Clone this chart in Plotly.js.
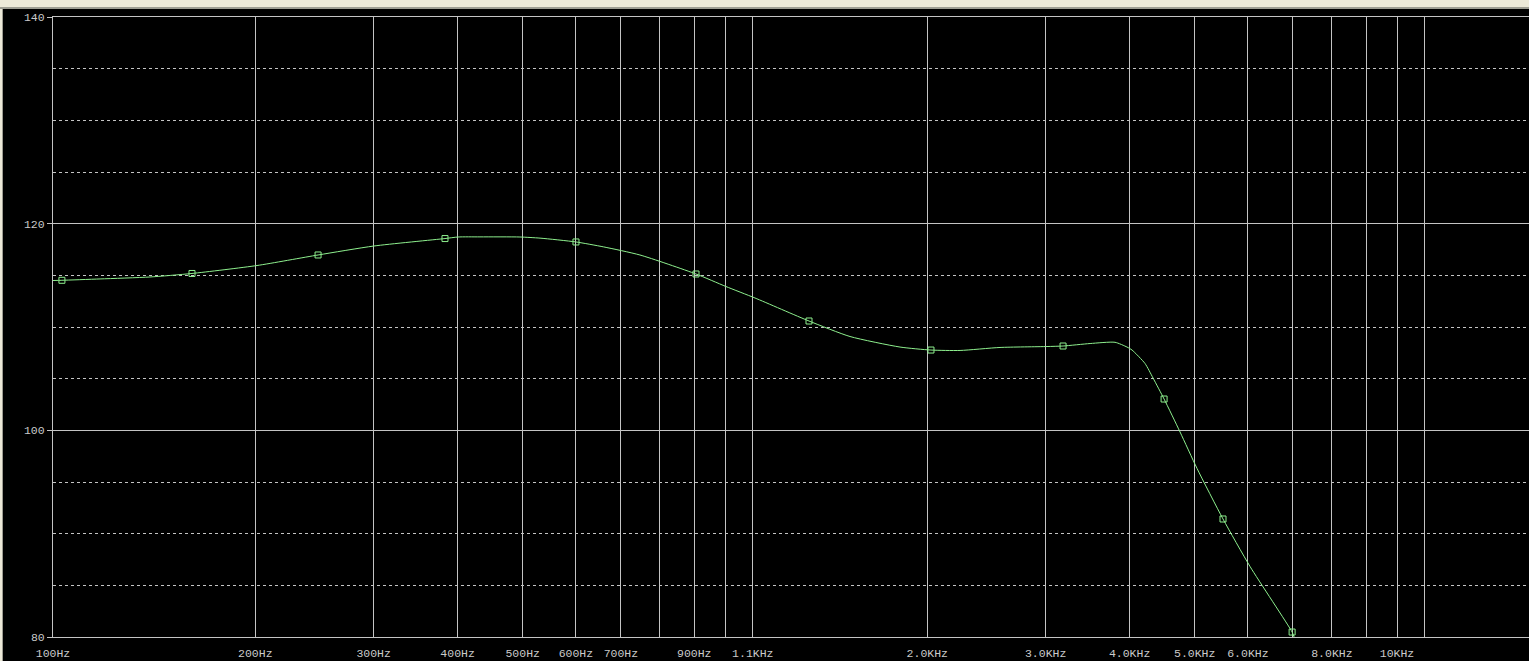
<!DOCTYPE html>
<html>
<head>
<meta charset="utf-8">
<script src="https://cdn.plot.ly/plotly-3.0.1.min.js"></script>
<style>
  html, body { margin: 0; padding: 0; background: #ece9d8; width: 1529px; height: 661px; overflow: hidden; }
  #topline { position: absolute; left: 0; top: 7px; width: 1529px; height: 2px; background: #9d9d92; }
  #leftline { position: absolute; left: 2px; top: 7px; width: 1px; height: 654px; background: #9d9d92; }
  #chart { position: absolute; left: 3px; top: 9px; width: 1526px; height: 652px; }
</style>
</head>
<body>
<div id="topline"></div>
<div id="leftline"></div>
<div id="chart"></div>
<script>
// Curve trace (frequency in Hz, level in dB)
const freqLine = [100, 103.1, 117.5, 139.4, 161.0, 201.2, 248.0, 300.4, 383.1, 400.6, 431.9, 495.3, 530.6, 600.1, 660, 747.1, 905.4, 1003, 1108, 1333.5, 1534.7, 1821.6, 2025.4, 2237.6, 2566, 3014, 3184.6, 3494, 3805, 3965, 4034, 4217, 4335, 4502, 4755, 5040, 5509, 6044, 6981, 7028];
const dbLine = [114.50, 114.52, 114.65, 114.84, 115.18, 115.95, 116.97, 117.84, 118.56, 118.71, 118.72, 118.71, 118.60, 118.23, 117.75, 116.97, 115.13, 113.92, 112.81, 110.58, 109.08, 108.06, 107.77, 107.73, 108.02, 108.11, 108.16, 108.40, 108.52, 108.06, 107.77, 106.47, 105.06, 103.03, 99.84, 96.31, 91.42, 86.82, 80.48, 80.00];

// Square point markers on the curve
const markerFreq = [103.1, 161.0, 248.0, 383.1, 600.1, 905.4, 1333.5, 2025.4, 3184.6, 4502, 5509, 6981];
const markerDb = [114.52, 115.18, 116.97, 118.56, 118.23, 115.13, 110.58, 107.77, 108.16, 103.03, 91.42, 80.48];

// X grid positions and labels
const xTickVals = [100, 200, 300, 400, 500, 600, 700, 800, 900, 1000, 1100, 2000, 3000, 4000, 5000, 6000, 7000, 8000, 9000, 10000, 11000];
const xTickText = ["100Hz", "200Hz", "300Hz", "400Hz", "500Hz", "600Hz", "700Hz", "", "900Hz", "", "1.1KHz", "2.0KHz", "3.0KHz", "4.0KHz", "5.0KHz", "6.0KHz", "", "8.0KHz", "", "10KHz", ""];

// Y tick labels
const yTickVals = [80, 100, 120, 140];
const yTickText = ["80", "100", "120", "140"];

const green = '#8ef08e';
const grid = '#c4c4c4';
const fontSpec = { family: 'Liberation Mono, Courier New, monospace', size: 11.5, color: '#cacaca' };

const traces = [
  {
    x: freqLine, y: dbLine, type: 'scatter', mode: 'lines',
    line: { color: green, width: 1, shape: 'spline', smoothing: 0.6 },
    hoverinfo: 'skip', showlegend: false
  },
  {
    x: markerFreq, y: markerDb, type: 'scatter', mode: 'markers',
    marker: { symbol: 'square-open', size: 6, color: green, line: { color: green, width: 1 } },
    showlegend: false
  }
];

const layout = {
  width: 1526, height: 652,
  margin: { l: 50, r: 0, t: 8, b: 24, pad: 0 },
  paper_bgcolor: '#000000',
  plot_bgcolor: '#000000',
  font: fontSpec,
  showlegend: false,
  xaxis: {
    type: 'log',
    range: [2, 2 + 1476 / 672],
    tickmode: 'array', tickvals: xTickVals, ticktext: xTickText,
    showgrid: true, gridcolor: grid, gridwidth: 1,
    showline: true, linecolor: grid, linewidth: 1, mirror: true,
    ticks: '', ticklabelstandoff: 5,
    tickfont: fontSpec, zeroline: false
  },
  yaxis: {
    range: [80, 140],
    tickmode: 'array', tickvals: yTickVals, ticktext: yTickText,
    showgrid: true, gridcolor: grid, gridwidth: 1,
    minor: { dtick: 5, tick0: 0, showgrid: true, gridcolor: grid, griddash: '3px,3px', gridwidth: 1, ticks: '' },
    showline: true, linecolor: grid, linewidth: 1,
    ticks: 'outside', ticklen: 5, tickcolor: grid, tickwidth: 1,
    tickfont: fontSpec, zeroline: false
  }
};

Plotly.newPlot('chart', traces, layout, { staticPlot: true, displayModeBar: false });
</script>
</body>
</html>
